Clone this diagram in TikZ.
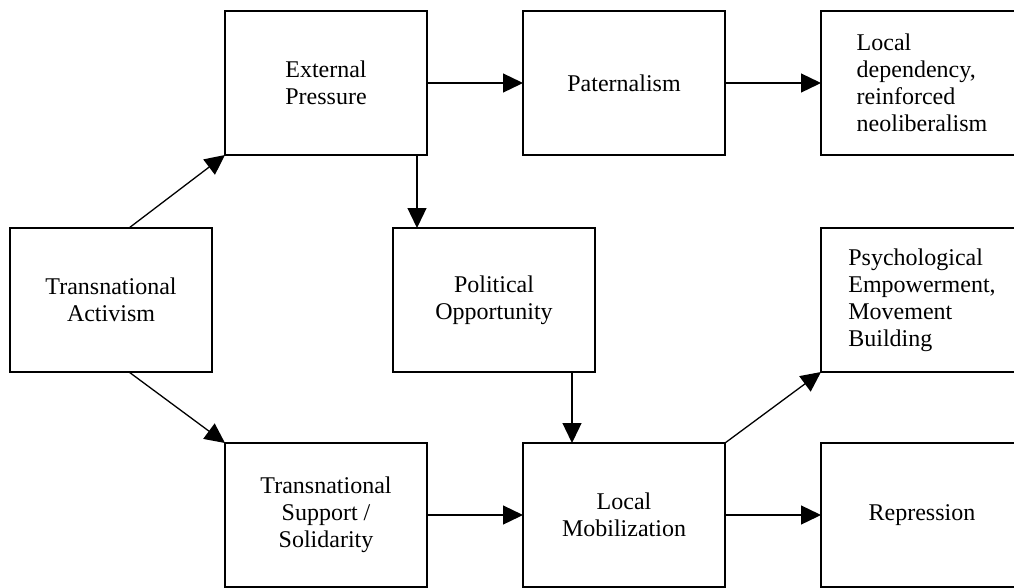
\documentclass[tikz,border=0pt]{standalone}
\usepackage{fontspec}
\setmainfont{Liberation Serif}
\usetikzlibrary{arrows.meta, positioning}

\begin{document}
\begin{tikzpicture}[
    node distance=73pt and 96pt,
    factor/.style={rectangle, draw=black, line width=1.3pt, outer sep=0pt,
                   minimum width=202pt, minimum height=144pt,
                   font=\fontsize{24pt}{27pt}\selectfont, align=center},
    outcome/.style={factor, align=left},
    arrow/.style={-{Triangle[length=20pt, width=19pt]}, line width=1.3pt}
]
\useasboundingbox (0,0) rectangle (1014pt,-587pt);

% Left column
\node[factor] (activism) at (111pt,-300pt) {Transnational\\Activism};

% Upper path
\node[factor, above right=73pt and 13pt of activism] (pressure) {External\\Pressure};
\node[factor, right=96pt of pressure] (paternal) {Paternalism};
\node[outcome, right=96pt of paternal] (dependency) {Local\\dependency,\\reinforced\\neoliberalism};

% Middle
\node[factor, below right=73pt and -34pt of pressure] (opportunity) {Political\\Opportunity};

% Lower path
\node[factor, below right=71pt and 13pt of activism] (support) {Transnational\\Support /\\Solidarity};
\node[factor, right=96pt of support] (mobilize) {Local\\Mobilization};
\node[factor, right=96pt of mobilize] (repress) {Repression};
\node[outcome, above=71pt of repress] (empower) {Psychological\\Empowerment,\\Movement\\Building};

% Connectors
\draw[arrow] ([xshift=18pt]activism.north) -- (pressure.south west);
\draw[arrow] ([xshift=18pt]activism.south) -- (support.north west);
\draw[arrow] (pressure) -- (paternal);
\draw[arrow] (paternal) -- (dependency);
\draw[arrow] ([xshift=24pt]opportunity.north west |- pressure.south) -- ([xshift=24pt]opportunity.north west);
\draw[arrow] ([xshift=-23pt]opportunity.south east) -- ([xshift=-23pt]opportunity.south east |- mobilize.north);
\draw[arrow] (support) -- (mobilize);
\draw[arrow] (mobilize) -- (repress);
\draw[arrow] (mobilize.north east) -- (empower.south west);

\end{tikzpicture}
\end{document}
